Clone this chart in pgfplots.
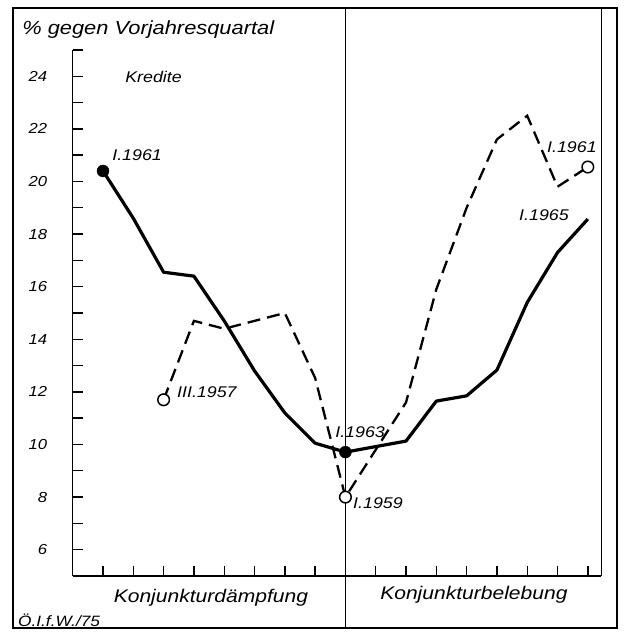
\documentclass[border=0pt]{standalone}
\usepackage{fontspec}
\setmainfont{Liberation Sans}[FakeStretch=1.15]
\usepackage{pgfplots}
\pgfplotsset{compat=1.18}
\begin{document}
\begin{tikzpicture}
\begin{axis}[
  scale only axis,
  width=528.7pt, height=526pt,
  xmin=0, xmax=17.45, ymin=5, ymax=25,
  axis x line*=bottom, axis y line*=left,
  axis line style={line width=1.5pt, -},
  xtick={1,2,3,4,5,6,7,8,10,11,12,13,14,15,16,17},
  xticklabels={},
  ytick={6,8,...,24},
  minor ytick={7,9,...,25},
  tick align=inside,
  major tick length=10pt, minor tick length=10pt,
  tick style={line width=1.4pt, black},
  minor tick style={line width=1.4pt, black},
  /pgf/number format/assume math mode=true,
  yticklabel style={font=\fontsize{14.5}{15}\selectfont\itshape, xshift=-22pt},
  clip=false,
]
% invisible bounding box (whole picture)
\path (axis cs:-2.40,2.795) rectangle (axis cs:18.19,26.90);
% outer frame
\draw[line width=2pt] (axis cs:-1.97,3.02) rectangle (axis cs:17.96,26.6);
% divider and right line
\draw[line width=1.2pt] (axis cs:9,3.02) -- (axis cs:9,26.6);
\draw[line width=1.5pt] (axis cs:17.45,5) -- (axis cs:17.45,26.6);

\addplot[black, line width=3.2pt, line join=round] coordinates {
(1,20.4) (2,18.6) (3,16.55) (4,16.4) (5,14.7) (6,12.8) (7,11.2) (8,10.05) (9,9.71)
(10,9.92) (11,10.13) (12,11.65) (13,11.85) (14,12.83) (15,15.4) (16,17.3) (17,18.57)};
\addplot[black, line width=2.3pt, dash pattern=on 13pt off 7pt] coordinates {
(3,11.7) (4,14.7) (5,14.4) (6,14.7) (7,15.0) (8,12.53) (9,8.0) (10,9.8) (11,11.6)
(12,15.9) (13,19.0) (14,21.6) (15,22.5) (16,19.8) (17,20.55)};

\addplot[only marks, mark=*, mark size=6pt, mark options={fill=black, draw=black}] coordinates {(1,20.4) (9,9.71)};
\addplot[only marks, mark=*, mark size=5.8pt, mark options={fill=white, draw=black, line width=1.5pt}] coordinates {(3,11.7) (9,8.0) (17,20.55)};

\begin{scope}[every node/.style={font=\fontsize{15.5}{16}\selectfont\itshape, inner sep=0pt}]
\node[anchor=base west, font=\fontsize{19}{20}\selectfont\itshape] at (axis cs:-1.67,25.57) {\% gegen Vorjahresquartal};
\node[anchor=base west, font=\fontsize{15.5}{16}\selectfont\itshape] at (axis cs:1.73,23.75) {Kredite};
\node[anchor=west] at (axis cs:1.30,21.0) {I.1961};
\node[anchor=west] at (axis cs:3.44,12.0) {III.1957};
\node[anchor=west] at (axis cs:8.66,10.48) {I.1963};
\node[anchor=west] at (axis cs:9.25,7.78) {I.1959};
\node[anchor=west] at (axis cs:15.65,21.31) {I.1961};
\node[anchor=west] at (axis cs:14.73,18.73) {I.1965};
\node[font=\fontsize{18.3}{19}\selectfont\itshape] at (axis cs:4.56,4.16) {Konjunkturdämpfung};
\node[font=\fontsize{18.3}{19}\selectfont\itshape] at (axis cs:13.24,4.28) {Konjunkturbelebung};
\node[font=\fontsize{15}{15}\selectfont\itshape] at (axis cs:-0.45,3.33) {Ö.I.f.W./75};
\end{scope}
\end{axis}
\end{tikzpicture}
\end{document}
